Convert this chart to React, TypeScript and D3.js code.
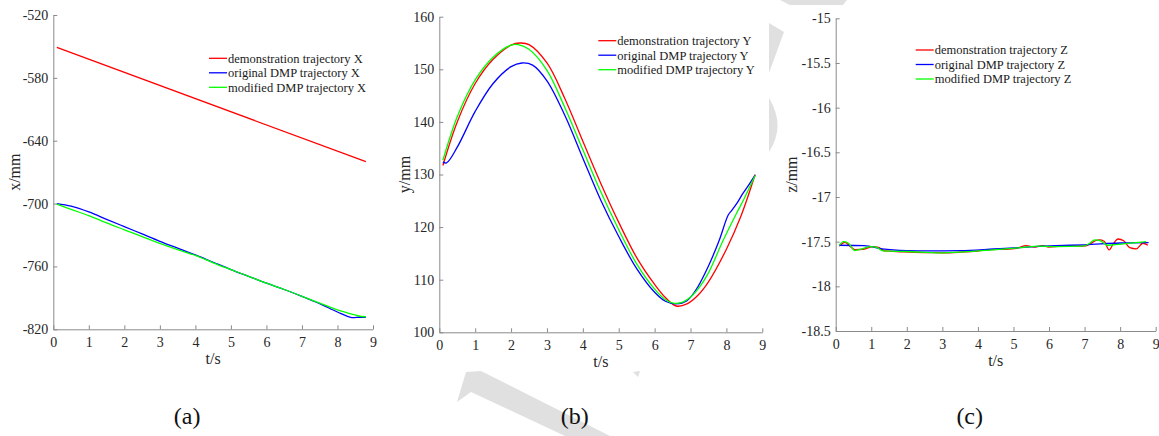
import React, { useEffect, useRef } from 'react';
import * as d3 from 'd3';

const W = 1159;
const H = 436;
const FONT = '"Liberation Serif", "Times New Roman", serif';

// tick values
const timeTicks = [0, 1, 2, 3, 4, 5, 6, 7, 8, 9];
const xTicks = [-820, -760, -700, -640, -580, -520];
const yTicks = [100, 110, 120, 130, 140, 150, 160];
const zTicks = [-18.5, -18, -17.5, -17, -16.5, -16, -15.5, -15];

const seriesNames = ['demonstration trajectory', 'original DMP trajectory', 'modified DMP trajectory'];
const seriesColors = ['#ff0000', '#0000ff', '#00ff00'];

// (a) x
const tDemoX = [0.1, 8.8];
const demoX = [-551, -660];
const tDmpX = [0.1, 0.5, 1, 1.5, 2, 2.5, 3, 3.5, 4, 4.5, 5, 5.5, 6, 6.5, 7, 7.5, 8, 8.4, 8.6, 8.8];
const origX = [-700, -702.5, -708, -715, -722, -729, -736, -742.5, -749, -756, -763, -769.5, -776, -782, -788.5, -795.5, -803.5, -808.8, -808.5, -808.5];
const modX = [-700.5, -705.5, -711.5, -718.5, -725, -731.5, -738, -744, -749.5, -756.5, -763, -769.5, -776, -782, -788.5, -795, -801.5, -805.5, -807.3, -808];

// (b) y
const tDemoY = [0.1, 0.5, 1, 1.5, 2, 2.25, 2.5, 3, 3.5, 4, 4.5, 5, 5.5, 6, 6.3, 6.6, 6.9, 7.2, 7.5, 8, 8.4, 8.8];
const demoY = [131.7, 140, 147.3, 151.9, 154.6, 155, 154.7, 151.2, 144.4, 136.3, 128.3, 120.9, 114.2, 109.1, 106.6, 105, 105.4, 107, 109.6, 115.8, 122, 130];
const tOrigY = [0.1, 0.2, 0.5, 1, 1.5, 2, 2.3, 2.6, 3, 3.5, 4, 4.5, 5, 5.5, 6, 6.3, 6.6, 6.9, 7.2, 7.5, 7.8, 8.05, 8.15, 8.3, 8.45, 8.6, 8.8];
const origY = [132.4, 132.2, 135.2, 142, 147.3, 150.5, 151.2, 150.8, 147.8, 141.2, 133.1, 125.1, 118.2, 112.1, 107.6, 105.9, 105.4, 106, 108.6, 112.6, 117.5, 122.3, 123.2, 124.6, 126.3, 127.8, 129.9];
const tModY = [0.1, 0.5, 1, 1.5, 2, 2.2, 2.5, 3, 3.5, 4, 4.5, 5, 5.5, 6, 6.3, 6.55, 6.8, 7, 7.26, 7.5, 7.91, 8.28, 8.5, 8.8];
const modY = [132.7, 141, 148, 152.3, 154.6, 154.7, 153.8, 149.8, 142.7, 134.7, 126.7, 119.5, 113, 108.2, 106.2, 105.5, 105.8, 106.7, 108.7, 111.3, 117.5, 122.6, 125.5, 129.8];

// (c) z
const tDemoZ = [0.1, 0.26, 0.4, 0.54, 0.78, 1.06, 1.2, 1.39, 1.72, 2.2, 2.65, 3, 3.5, 4, 4.33, 4.8, 5.08, 5.36, 5.6, 5.81, 6, 6.3, 6.56, 6.95, 7.14, 7.3, 7.42, 7.55, 7.69, 7.8, 7.94, 8.1, 8.27, 8.45, 8.64, 8.78];
const demoZ = [-17.55, -17.507, -17.55, -17.59, -17.585, -17.556, -17.565, -17.604, -17.61, -17.62, -17.623, -17.625, -17.618, -17.605, -17.59, -17.585, -17.574, -17.545, -17.56, -17.545, -17.56, -17.55, -17.545, -17.55, -17.53, -17.49, -17.48, -17.495, -17.593, -17.53, -17.47, -17.49, -17.567, -17.58, -17.518, -17.54];
const tOrigZ = [0.1, 0.8, 1.3, 2, 2.65, 3.5, 4.33, 5, 6.2, 7, 8, 8.8];
const origZ = [-17.54, -17.545, -17.58, -17.6, -17.604, -17.6, -17.585, -17.57, -17.545, -17.535, -17.515, -17.51];
const tModZ = [0.1, 0.22, 0.35, 0.54, 0.75, 0.97, 1.15, 1.34, 2, 2.93, 3.6, 4.33, 5.27, 5.7, 6.2, 6.95, 7.14, 7.29, 7.45, 7.64, 8.1, 8.73];
const modZ = [-17.54, -17.5, -17.515, -17.6, -17.58, -17.556, -17.565, -17.604, -17.61, -17.626, -17.615, -17.595, -17.565, -17.55, -17.555, -17.55, -17.52, -17.48, -17.49, -17.54, -17.525, -17.5];

type Frame = { left: number; right: number; top: number; bottom: number };

interface PanelProps {
  frame: Frame;
  domain: [number, number];
  ticks: number[];
  lines: { t: number[]; v: number[] }[];
  axisName: string;
  yLabel: string;
  labelGap: number;
  tag: string;
  legendX: number;
  legendY: number;
  curve: d3.CurveFactory;
}

const Panel = ({ frame, domain, ticks, lines, axisName, yLabel, labelGap, tag, legendX, legendY, curve }: PanelProps) => {
  const xRef = useRef<SVGGElement>(null);
  const yRef = useRef<SVGGElement>(null);

  const x = d3.scaleLinear().domain([0, 9]).range([frame.left, frame.right]);
  const y = d3.scaleLinear().domain(domain).range([frame.bottom, frame.top]);

  useEffect(() => {
    const gx = d3.select(xRef.current);
    gx.call(d3.axisBottom(x).tickValues(timeTicks).tickSizeInner(-4).tickSizeOuter(0).tickPadding(8).tickFormat(d => String(d)));
    const gy = d3.select(yRef.current);
    gy.call(d3.axisLeft(y).tickValues(ticks).tickSizeInner(-4).tickSizeOuter(0).tickPadding(5).tickFormat(d => String(d)));
    [gx, gy].forEach(g => {
      g.attr('font-family', FONT).attr('font-size', 14);
      g.selectAll('.domain').attr('stroke', '#8a8a8a');
      g.selectAll('.tick line').attr('stroke', '#8a8a8a');
      g.selectAll('.tick text').attr('fill', '#262626');
    });
  });

  const line = d3.line<[number, number]>()
    .curve(curve)
    .x(d => x(d[0]))
    .y(d => y(d[1]));

  const midX = (frame.left + frame.right) / 2;
  const midY = (frame.top + frame.bottom) / 2;

  return (
    <g>
      <g ref={xRef} transform={`translate(0,${frame.bottom})`} />
      <g ref={yRef} transform={`translate(${frame.left},0)`} />
      {lines.map((s, i) => (
        <path key={i} d={line(s.t.map((t, j) => [t, s.v[j]] as [number, number])) || ''}
          fill="none" stroke={seriesColors[i]} strokeWidth={1.3} />
      ))}
      <text x={midX} y={frame.bottom + 35} textAnchor="middle" fontFamily={FONT} fontSize={16} fill="#262626">t/s</text>
      <text transform={`translate(${frame.left - labelGap + 5},${midY}) rotate(-90)`} textAnchor="middle"
        fontFamily={FONT} fontSize={16} fill="#262626">{yLabel}</text>
      {seriesNames.map((n, i) => (
        <g key={n} transform={`translate(${legendX},${legendY + i * 14.5})`}>
          <line x1={0} x2={18} y1={0} y2={0} stroke={seriesColors[i]} strokeWidth={1.3} />
          <text x={19} y={4.3} fontFamily={FONT} fontSize={12.5} fill="#1a1a1a">{`${n} ${axisName}`}</text>
        </g>
      ))}
      <text x={midX - 26} y={424} textAnchor="middle" fontFamily={FONT} fontSize={24} fill="#111">{tag}</text>
    </g>
  );
};

const App = () => {
  return (
    <svg width={W} height={H} style={{ position: 'absolute', left: 0, top: 0, background: '#fff' }}>
      <rect width={W} height={H} fill="#fff" />
      {/* faint watermark */}
      <g fill="#e0e0e0">
        <polygon points="466,372 481,371 610,436 565,436 471,392 457,402" />
        <polygon points="633,372 640,371 638,377" />
        <polygon points="769,23 784,32 769,73" />
        <path d="M769,98 Q786,126 769,152 Z" />
        <polygon points="780,0 847,0 843,5 790,5" />
      </g>
      <Panel frame={{ left: 53.3, right: 373, top: 15, bottom: 329.3 }} domain={[-820, -520]} ticks={xTicks}
        lines={[{ t: tDemoX, v: demoX }, { t: tDmpX, v: origX }, { t: tDmpX, v: modX }]}
        axisName="X" yLabel="x/mm" labelGap={38} tag="(a)" legendX={209} legendY={58.3} curve={d3.curveCatmullRom} />
      <Panel frame={{ left: 439.3, right: 762.3, top: 16.7, bottom: 332.3 }} domain={[100, 160]} ticks={yTicks}
        lines={[{ t: tDemoY, v: demoY }, { t: tOrigY, v: origY }, { t: tModY, v: modY }]}
        axisName="Y" yLabel="y/mm" labelGap={34} tag="(b)" legendX={598.3} legendY={40.7} curve={d3.curveCatmullRom} />
      <Panel frame={{ left: 835.7, right: 1155.7, top: 18.3, bottom: 331 }} domain={[-18.5, -15]} ticks={zTicks}
        lines={[{ t: tDemoZ, v: demoZ }, { t: tOrigZ, v: origZ }, { t: tModZ, v: modZ }]}
        axisName="Z" yLabel="z/mm" labelGap={44} tag="(c)" legendX={915.7} legendY={50} curve={d3.curveMonotoneX} />
    </svg>
  );
};

export default App;
